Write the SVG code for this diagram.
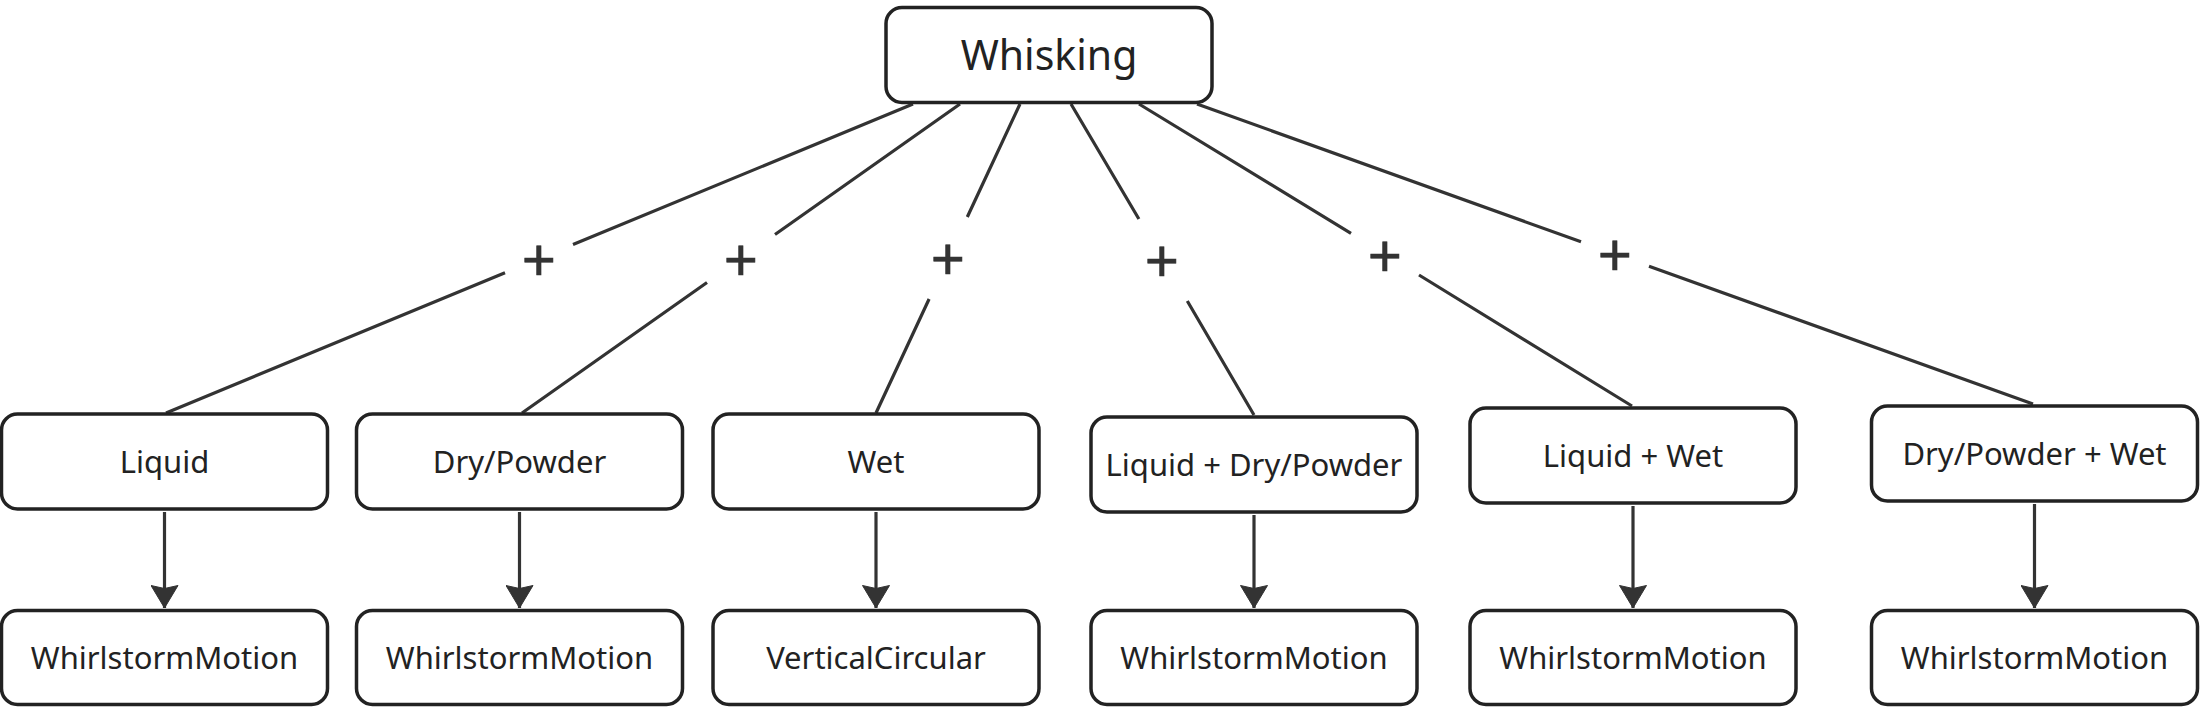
<svg xmlns="http://www.w3.org/2000/svg" width="2209" height="707" viewBox="0 0 2209 707">
<style>
  .box { fill: #ffffff; stroke: #222222; stroke-width: 3.5; }
  .lbl { font-family: "Noto Sans", "Open Sans", "Liberation Sans", sans-serif; font-size: 31px; fill: #222222; text-anchor: middle; }
  .title { font-size: 41px; }
  .edge { fill: none; stroke: #333333; stroke-width: 3.2; }
  .plus { font-family: "Noto Sans", "Open Sans", "Liberation Sans", sans-serif; font-size: 60px; fill: #333333; stroke: #333333; stroke-width: 0.6; text-anchor: middle; }
</style>
<defs>
  <marker id="arrow" markerUnits="userSpaceOnUse" markerWidth="24" markerHeight="28" viewBox="0 0 24 28" refX="23" refY="14" orient="auto">
    <path d="M23,14 L0.5,0.5 L3.5,14 L0.5,27.5 Z" fill="#333333" stroke="#333333" stroke-width="1" stroke-linejoin="round"/>
  </marker>
</defs>
<rect width="2209" height="707" fill="#ffffff"/>

<g id="connectors">
  <path class="edge" d="M913,104 L573,244.6 M505,272.8 L166,413"/>
  <path class="edge" d="M960,104 L775,234.5 M707,282.5 L522,413"/>
  <path class="edge" d="M1020,104 L967.3,217 M929.1,299 L876,413"/>
  <path class="edge" d="M1071,104 L1138.9,219 M1187.3,301 L1254,415"/>
  <path class="edge" d="M1139,104 L1351,233.4 M1419,275 L1632,406"/>
  <path class="edge" d="M1197,104 L1581,241.8 M1649,266.2 L2033,404"/>
  <text class="plus" x="539" y="282">+</text>
  <text class="plus" x="741" y="282">+</text>
  <text class="plus" x="948" y="281">+</text>
  <text class="plus" x="1162" y="283">+</text>
  <text class="plus" x="1385" y="278">+</text>
  <text class="plus" x="1615" y="277">+</text>
  <path class="edge" d="M164.5,512 L164.5,608" marker-end="url(#arrow)"/>
  <path class="edge" d="M519.5,512 L519.5,608" marker-end="url(#arrow)"/>
  <path class="edge" d="M876,512 L876,608" marker-end="url(#arrow)"/>
  <path class="edge" d="M1254,515 L1254,608" marker-end="url(#arrow)"/>
  <path class="edge" d="M1633,506 L1633,608" marker-end="url(#arrow)"/>
  <path class="edge" d="M2034.5,504 L2034.5,608" marker-end="url(#arrow)"/>
</g>

<g id="node-whisking">
  <rect class="box" x="886" y="7.5" width="326" height="95" rx="16"/>
  <text class="lbl title" x="1049" y="70">Whisking</text>
</g>

<g id="node-liquid">
  <rect class="box" x="1.5" y="414" width="326" height="95" rx="16"/>
  <text class="lbl" x="164.5" y="472.5">Liquid</text>
</g>
<g id="node-drypowder">
  <rect class="box" x="356.5" y="414" width="326" height="95" rx="16"/>
  <text class="lbl" x="519.5" y="472.5">Dry/Powder</text>
</g>
<g id="node-wet">
  <rect class="box" x="713" y="414" width="326" height="95" rx="16"/>
  <text class="lbl" x="876" y="472.5">Wet</text>
</g>
<g id="node-liquid-drypowder">
  <rect class="box" x="1091" y="417" width="326" height="95" rx="16"/>
  <text class="lbl" x="1254" y="475.5">Liquid + Dry/Powder</text>
</g>
<g id="node-liquid-wet">
  <rect class="box" x="1470" y="408" width="326" height="95" rx="16"/>
  <text class="lbl" x="1633" y="466.5">Liquid + Wet</text>
</g>
<g id="node-drypowder-wet">
  <rect class="box" x="1871.5" y="406" width="326" height="95" rx="16"/>
  <text class="lbl" x="2034.5" y="464.5">Dry/Powder + Wet</text>
</g>

<g id="node-motion-1">
  <rect class="box" x="1.5" y="610.5" width="326" height="94" rx="16"/>
  <text class="lbl" x="164.5" y="668.5">WhirlstormMotion</text>
</g>
<g id="node-motion-2">
  <rect class="box" x="356.5" y="610.5" width="326" height="94" rx="16"/>
  <text class="lbl" x="519.5" y="668.5">WhirlstormMotion</text>
</g>
<g id="node-motion-3">
  <rect class="box" x="713" y="610.5" width="326" height="94" rx="16"/>
  <text class="lbl" x="876" y="668.5">VerticalCircular</text>
</g>
<g id="node-motion-4">
  <rect class="box" x="1091" y="610.5" width="326" height="94" rx="16"/>
  <text class="lbl" x="1254" y="668.5">WhirlstormMotion</text>
</g>
<g id="node-motion-5">
  <rect class="box" x="1470" y="610.5" width="326" height="94" rx="16"/>
  <text class="lbl" x="1633" y="668.5">WhirlstormMotion</text>
</g>
<g id="node-motion-6">
  <rect class="box" x="1871.5" y="610.5" width="326" height="94" rx="16"/>
  <text class="lbl" x="2034.5" y="668.5">WhirlstormMotion</text>
</g>
</svg>
